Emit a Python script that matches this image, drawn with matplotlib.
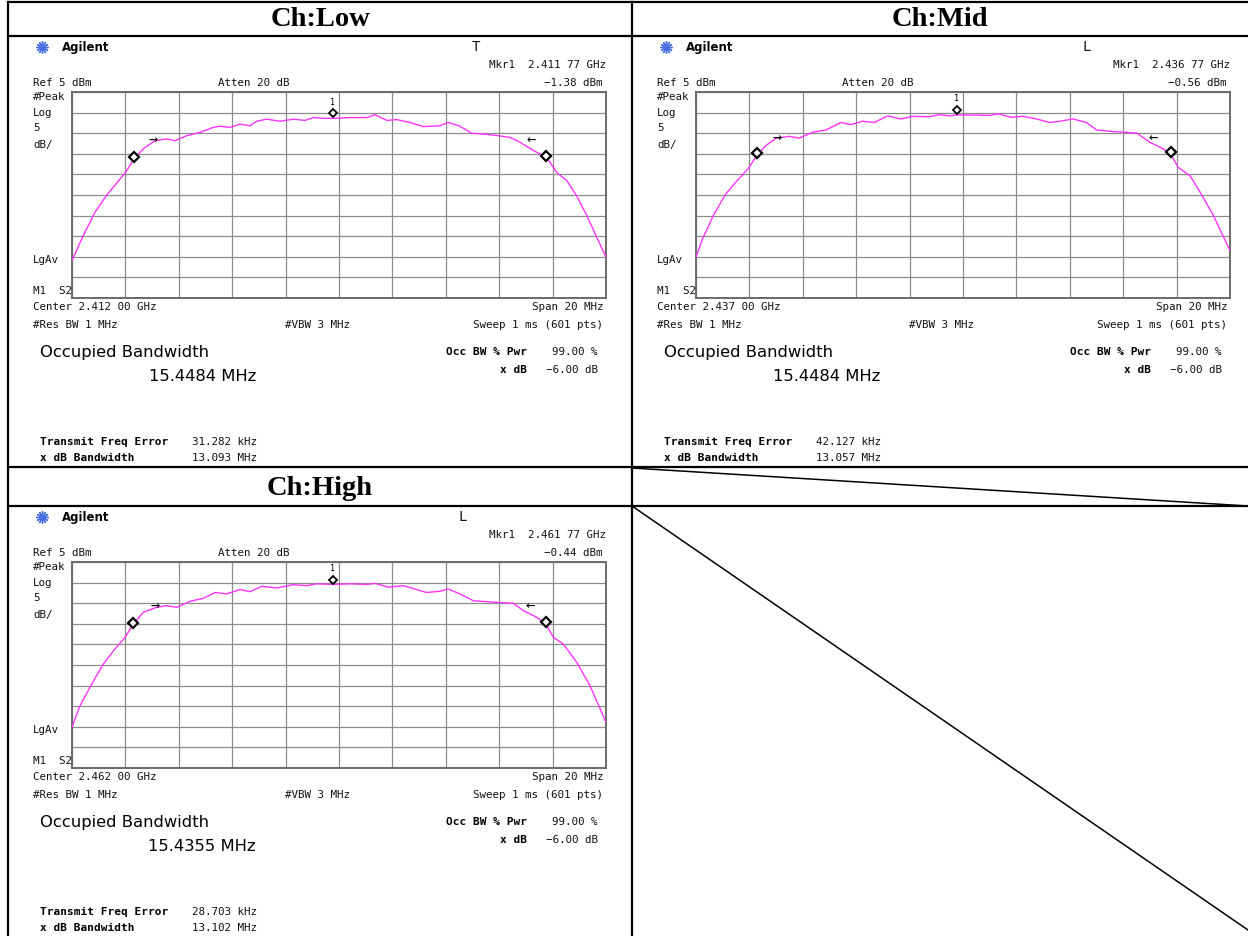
"""
Occupied bandwidth screenshots (Ch Low / Mid / High) redrawn as a table
"""

import matplotlib
matplotlib.use("Agg")
import matplotlib.pyplot as plt
import matplotlib.font_manager as fm
from matplotlib.transforms import ScaledTranslation
import numpy as np

# ---- data (offset from centre in MHz, level in dBm) ----
LOW_F = [-10, -9.58, -9.14, -8.70, -7.99, -7.70, -7.33, -6.89, -6.45, -6.14,
         -5.70, -5.21, -4.71, -4.46, -4.08, -3.71, -3.33, -3.08, -2.71, -2.21,
         -1.71, -1.27, -0.96, -0.59, -0.23, 0.41, 1.04, 1.35, 1.79, 2.16,
         2.66, 3.16, 3.78, 4.09, 4.53, 4.97, 5.66, 6.40, 6.78, 7.28,
         7.78, 8.15, 8.53, 8.90, 9.28, 10]
LOW_DB = [-35.9, -29.9, -24.2, -20.0, -14.5, -11.4, -8.8, -6.8, -6.4, -6.8,
          -5.6, -4.8, -3.6, -3.3, -3.6, -2.8, -3.2, -2.1, -1.6, -2.1,
          -1.6, -1.9, -1.2, -1.4, -1.4, -1.2, -1.2, -0.5, -1.9, -1.7,
          -2.4, -3.4, -3.2, -2.4, -3.3, -5.0, -5.35, -6.0, -7.2, -9.2,
          -10.9, -14.5, -16.5, -20.2, -25.0, -35.1]

MID_F = [-10, -9.76, -9.32, -8.89, -8.51, -8.01, -7.72, -7.38, -7.01, -6.51,
         -6.14, -5.64, -5.13, -4.57, -4.20, -3.76, -3.32, -2.82, -2.32, -1.88,
         -1.26, -0.88, -0.51, -0.23, 0.50, 0.99, 1.31, 1.81, 2.24, 2.75,
         3.25, 3.62, 4.12, 4.62, 5.00, 5.62, 6.50, 7.00, 7.50, 7.78,
         8.06, 8.50, 8.88, 9.38, 10]
MID_DB = [-35.1, -30.7, -24.6, -19.8, -16.9, -13.3, -10.3, -8.0, -6.25, -5.75,
          -6.2, -4.8, -4.2, -2.4, -2.9, -2.1, -2.4, -0.8, -1.55, -0.9,
          -1.0, -0.5, -0.8, -0.6, -0.6, -0.7, -0.3, -1.15, -0.9, -1.55,
          -2.4, -2.1, -1.55, -2.4, -4.2, -4.6, -4.95, -7.2, -8.8, -10.1,
          -13.3, -15.3, -19.3, -25.0, -33.5]

HIGH_F = [-10, -9.70, -9.26, -8.83, -8.39, -8.01, -7.73, -7.33, -6.83, -6.45,
          -6.08, -5.58, -5.08, -4.64, -4.21, -3.71, -3.33, -2.89, -2.33, -1.71,
          -1.21, -0.84, -0.21, 0.41, 1.04, 1.35, 1.85, 2.41, 3.28, 3.78,
          4.09, 4.53, 5.03, 5.91, 6.53, 6.90, 7.40, 7.75, 8.03, 8.40,
          8.90, 9.40, 10]
HIGH_DB = [-35.1, -29.9, -24.6, -19.8, -16.1, -13.3, -10.3, -7.2, -6.0, -5.6,
           -6.0, -4.55, -3.8, -2.4, -2.75, -1.7, -2.2, -0.9, -1.3, -0.5,
           -0.75, -0.3, -0.44, -0.3, -0.45, -0.2, -1.1, -0.75, -2.4, -2.1,
           -1.55, -2.75, -4.4, -4.8, -5.0, -6.8, -8.4, -10.1, -13.3, -14.9,
           -19.3, -25.0, -33.9]

CHANNELS = ["Ch:Low", "Ch:Mid", "Ch:High"]
MODE = ["T", "L", "L"]
CENTER = ["2.412 00 GHz", "2.437 00 GHz", "2.462 00 GHz"]
MKR_FREQ = ["2.411 77 GHz", "2.436 77 GHz", "2.461 77 GHz"]
MKR_LEVEL = [-1.38, -0.56, -0.44]
MKR_OFFSET = [-0.23, -0.23, -0.23]
OBW = ["15.4484 MHz", "15.4484 MHz", "15.4355 MHz"]
OBW_EDGES = [[-7.69, 7.76], [-7.72, 7.78], [-7.73, 7.75]]
OBW_EDGE_DB = [[-10.8, -10.5], [-9.8, -9.6], [-9.8, -9.6]]
XDB_ARROWS = [[-6.97, 7.19], [-6.96, 7.11], [-6.90, 7.15]]
XDB_ARROW_DB = [-6.4, -5.7, -5.4]
FREQ_ERR = ["31.282 kHz", "42.127 kHz", "28.703 kHz"]
XDB_BW = ["13.093 MHz", "13.057 MHz", "13.102 MHz"]

TRACES = [(LOW_F, LOW_DB), (MID_F, MID_DB), (HIGH_F, HIGH_DB)]

W, H = 1248, 937
MONO = "DejaVu Sans Mono"
try:
    fm.findfont("Liberation Sans Narrow", fallback_to_default=False)
    NARROW, BIG = "Liberation Sans Narrow", 15.5
except ValueError:
    NARROW, BIG = "DejaVu Sans", 11.8

fig = plt.figure(figsize=(W / 100, H / 100), dpi=100)
bg = fig.add_axes([0, 0, 1, 1])
bg.set_xlim(0, W)
bg.set_ylim(H, 0)
bg.axis("off")

# table lines
lw = 1.6
for y in [3, 37, 468, 507]:
    bg.plot([8, W], [y, y], color="black", lw=lw, solid_capstyle="butt")
bg.plot([8, 8], [3, H], color="black", lw=lw)
bg.plot([632, 632], [3, H], color="black", lw=lw)
bg.plot([632, W], [469, 507], color="black", lw=1.1)
bg.plot([632, W], [507, 931], color="black", lw=1.1)

# header cells
hdr = dict(family="Liberation Serif", fontweight="bold", fontsize=20.5,
           ha="center", va="center")
bg.text(320, 20, CHANNELS[0], **hdr)
bg.text(940, 20, CHANNELS[1], **hdr)
bg.text(320, 489, CHANNELS[2], **hdr)


def panel(i, dx, dy):
    small = dict(family=MONO, fontsize=7.8, va="center", color="#111111")
    bold = dict(family=MONO, fontsize=8, fontweight="bold", va="center")

    def t(x, y, s, **kw):
        opts = dict(small)
        opts.update(kw)
        bg.text(x + dx, y + dy, s, **opts)

    # logo + header
    bg.plot(42 + dx, 48 + dy, marker=(12, 2, 0), ms=9, mew=1.0, color="#4a6fe0")
    bg.text(62 + dx, 48 + dy, "Agilent", family=NARROW, fontsize=8.5,
            fontweight="bold", va="center")
    t(476 if MODE[i] == "T" else 463, 47, MODE[i], fontsize=10, ha="center")
    t(606, 65, "Mkr1  " + MKR_FREQ[i], ha="right")
    t(33, 83, "Ref 5 dBm")
    t(218, 83, "Atten 20 dB")
    t(603, 83, f"{MKR_LEVEL[i]:.2f} dBm".replace("-", "\u2212"), ha="right")
    for y, s in [(97, "#Peak"), (113, "Log"), (128, "5"), (145, "dB/"),
                 (260, "LgAv"), (291, "M1  S2")]:
        t(33, y, s)
    t(33, 307, "Center " + CENTER[i])
    t(603, 307, "Span 20 MHz", ha="right")
    t(33, 325, "#Res BW 1 MHz")
    t(285, 325, "#VBW 3 MHz")
    t(603, 325, "Sweep 1 ms (601 pts)", ha="right")

    # measurement block
    big = dict(family=NARROW, fontsize=BIG, va="center")
    bg.text(40 + dx, 353 + dy, "Occupied Bandwidth", **big)
    bg.text(256 + dx, 377 + dy, OBW[i], ha="right", **big)
    bg.text(527 + dx, 352 + dy, "Occ BW % Pwr", ha="right", **bold)
    t(598, 352, "99.00 %", ha="right")
    bg.text(527 + dx, 370 + dy, "x dB", ha="right", **bold)
    t(598, 370, "\u22126.00 dB", ha="right")
    bg.text(40 + dx, 442 + dy, "Transmit Freq Error", **bold)
    t(192, 442, FREQ_ERR[i])
    bg.text(40 + dx, 458 + dy, "x dB Bandwidth", **bold)
    t(192, 458, XDB_BW[i])

    # spectrum display
    x0, x1, y0, y1 = 72 + dx, 606 + dx, 93 + dy, 299 + dy
    ax = fig.add_axes([x0 / W, 1 - y1 / H, (x1 - x0) / W, (y1 - y0) / H])
    ax.set_xlim(-10, 10)
    ax.set_ylim(-45, 5)
    ax.set_xticks(np.arange(-10, 11, 2))
    ax.set_yticks(np.arange(-45, 6, 5))
    ax.grid(True, color="#8c8c8c", lw=0.9)
    ax.tick_params(length=0, labelbottom=False, labelleft=False)
    for sp in ax.spines.values():
        sp.set_color("#6a6a6a")
        sp.set_linewidth(1.4)
    f, d = TRACES[i]
    ax.plot(f, d, color="#ff33ff", lw=1.0, zorder=3)
    ax.plot(OBW_EDGES[i], OBW_EDGE_DB[i], "D", ms=5, mfc="white", mec="black",
            mew=1.6, zorder=4)
    ax.text(XDB_ARROWS[i][0], XDB_ARROW_DB[i], "\u2192", family=MONO,
            fontsize=11, ha="center", va="center", zorder=4)
    ax.text(XDB_ARROWS[i][1], XDB_ARROW_DB[i], "\u2190", family=MONO,
            fontsize=11, ha="center", va="center", zorder=4)
    up = ax.transData + ScaledTranslation(0, 3.5 / 72, fig.dpi_scale_trans)
    ax.plot(MKR_OFFSET[i], MKR_LEVEL[i], "D", ms=4.5, mfc="white", mec="black",
            mew=1.3, transform=up, zorder=4)
    ax.text(MKR_OFFSET[i], MKR_LEVEL[i] + 3.0, "1", family=MONO, fontsize=6,
            ha="center", va="center", transform=up, zorder=4)


panel(0, 0, 0)
panel(1, 624, 0)
panel(2, 0, 470)

fig.savefig("out.png", dpi=100)
